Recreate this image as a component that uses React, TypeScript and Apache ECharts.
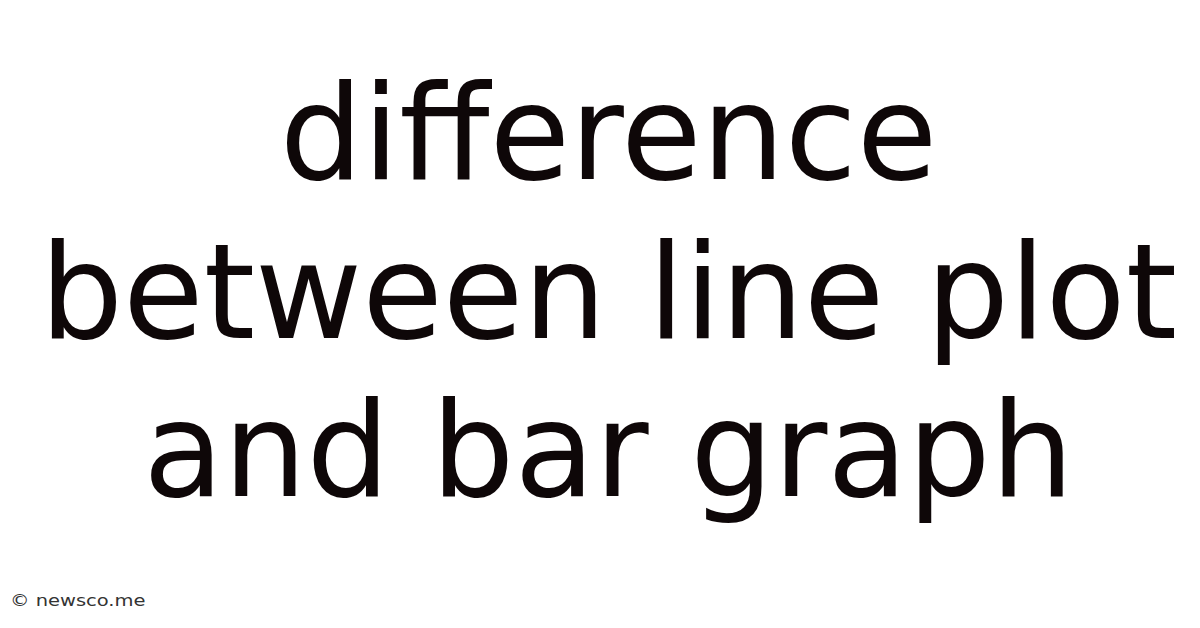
import * as echarts from "echarts";
import React, { useEffect, useRef } from "react";

// title lines, as they break in the picture
const titleLines = ["difference", "between line plot", "and bar graph"];
const credit = "© newsco.me";

const TitleCard: React.FC = () => {
  const chartRef = useRef<HTMLDivElement | null>(null);

  useEffect(() => {
    document.body.style.margin = "0";
    const chart = echarts.init(chartRef.current, null, { renderer: "svg" });
    chart.setOption({
      animation: false,
      backgroundColor: "#ffffff",
      graphic: [
        ...titleLines.map((line, i) => ({
          type: "text",
          x: 608.5,
          y: 68 + i * 158.5,
          style: {
            text: line,
            fill: "#0e0708",
            font: '131px "DejaVu Sans"',
            textAlign: "center",
            textVerticalAlign: "top",
          },
        })),
        {
          // the credit is set wide in the picture
          type: "text",
          x: 10,
          y: 593,
          scaleX: 1.3,
          style: {
            text: credit,
            fill: "#333333",
            font: '15px "DejaVu Sans"',
            textAlign: "left",
            textVerticalAlign: "top",
          },
        },
      ],
    });

    return () => {
      chart.dispose();
    };
  }, []);

  return <div style={{ width: "1200px", height: "628px" }} ref={chartRef}></div>;
};

export default function App() {
  return <TitleCard />;
}
